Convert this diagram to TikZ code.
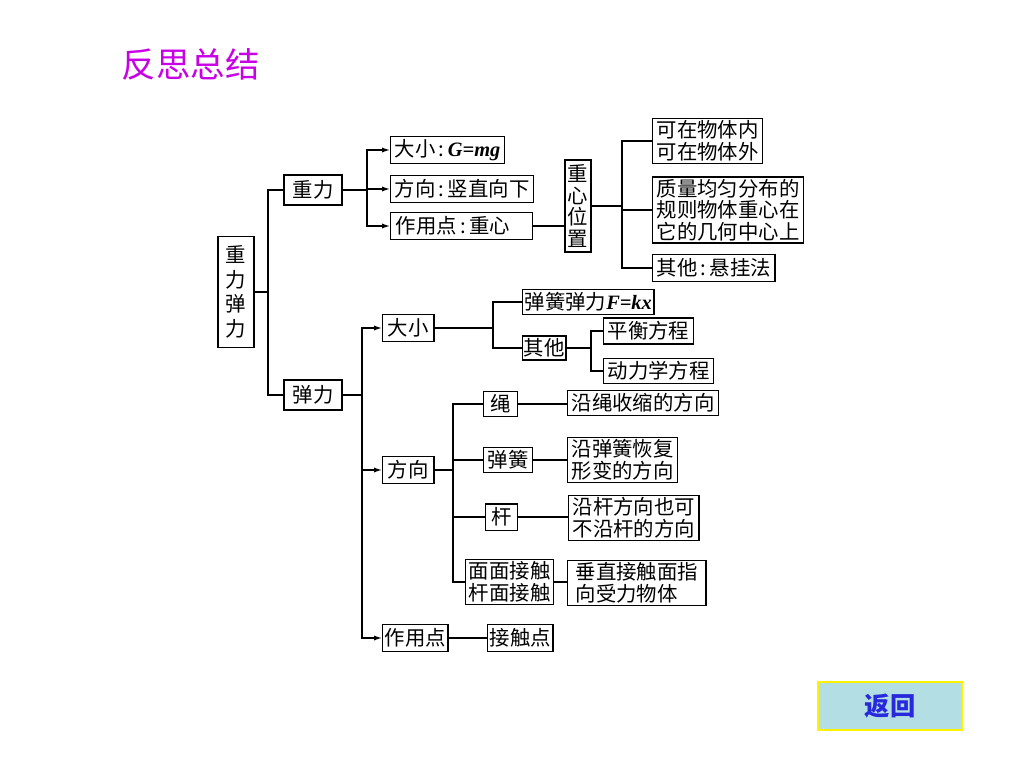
\documentclass[tikz,border=0pt]{standalone}
\usepackage{fontspec}
\setmainfont{Noto Sans CJK SC}
\newfontfamily\latinit{Liberation Serif}
\usetikzlibrary{arrows.meta}
\definecolor{titlepurple}{RGB}{200,0,230}
\definecolor{backfill}{RGB}{178,222,228}
\definecolor{backblue}{RGB}{40,40,220}
\tikzset{
  box/.style={draw, line width=1pt, inner xsep=0.1cm, inner ysep=0.05cm,
    minimum height=0.68cm, font=\fontsize{14.5}{15.4}\selectfont},
  tallbox/.style={box, align=center, inner xsep=0.05cm},
  multibox/.style={box, align=left},
  link/.style={line width=1pt},
  arr/.style={link, -{Latex[length=0.2cm,width=0.13cm]}},
}
\newcommand{\fml}[1]{{\latinit\bfseries\itshape #1}}

\begin{document}
\begin{tikzpicture}[x=0.025cm,y=-0.025cm]
  \useasboundingbox (0,0) rectangle (1024,768);

  % title
  \node[text=titlepurple, font=\fontsize{24.5}{28}\selectfont, anchor=west] (title) at (117,64) {反思总结};

  % root
  \node[tallbox, minimum width=0.9cm, minimum height=2.78cm, font=\fontsize{14.5}{17.5}\selectfont] (root) at (236,292) {重\\力\\弹\\力};
  \node[box, minimum width=1.45cm, minimum height=0.75cm] (zl) at (313,190) {重力};
  \node[box, minimum width=1.45cm, minimum height=0.75cm] (tl) at (313,395) {弹力};
  \coordinate (sp0) at (268,0);
  \draw[link] (root.east) -- (root.east -| sp0) |- (zl.west);
  \draw[link] (root.east) -- (root.east -| sp0) |- (tl.west);

  % gravity branch
  \node[box, anchor=west] (dx1) at (390,150) {大小\,:\,\fml{G=mg}};
  \node[box, anchor=west] (fx1) at (390,189) {方向\,:\,竖直向下};
  \node[box, anchor=west, minimum width=3.55cm, text width=3.3cm] (zy1) at (390,226) {作用点\,:\,重心};
  \coordinate (sp1) at (367,0);
  \draw[arr] (zl.east) -- (zl.east -| sp1) |- (dx1.west);
  \draw[arr] (zl.east) -- (zl.east -| sp1) |- (fx1.west);
  \draw[arr] (zl.east) -- (zl.east -| sp1) |- (zy1.west);

  % centre of gravity
  \node[tallbox, minimum width=0.65cm, minimum height=2.3cm, inner xsep=0.02cm] (zxwz) at (578,206) {重\\心\\位\\置};
  \draw[link] (zy1.east) -- (zy1.east -| zxwz.west);
  \node[multibox, anchor=west] (kz) at (652,141) {可在物体内\\可在物体外};
  \node[multibox, anchor=west] (zlj) at (652,210) {质量均匀分布的\\规则物体重心在\\它的几何中心上};
  \node[box, anchor=west] (qt1) at (652,268) {其他\,:\,悬挂法};
  \coordinate (sp2) at (622,0);
  \draw[link] (zxwz.east) -- (zxwz.east -| sp2) |- (kz.west);
  \draw[link] (zxwz.east) -- (zxwz.east -| sp2) |- (zlj.west);
  \draw[link] (zxwz.east) -- (zxwz.east -| sp2) |- (qt1.west);

  % elastic branch
  \node[box, anchor=west, minimum width=1.28cm] (dx2) at (382,328) {大小};
  \node[box, anchor=west, minimum width=1.28cm] (fx2) at (382,470) {方向};
  \node[box, anchor=west, inner xsep=0.05cm] (zy2) at (382,638) {作用点};
  \coordinate (sp3) at (362,0);
  \draw[arr] (tl.east) -- (tl.east -| sp3) |- (dx2.west);
  \draw[arr] (tl.east) -- (tl.east -| sp3) |- (fx2.west);
  \draw[arr] (tl.east) -- (tl.east -| sp3) |- (zy2.west);

  % magnitude
  \node[box, anchor=west, inner xsep=0.05cm, minimum height=0.62cm] (thl) at (522,302) {弹簧弹力\fml{F=kx}};
  \node[box, anchor=west, inner xsep=0.03cm, minimum height=0.6cm] (qt2) at (522,348) {其他};
  \coordinate (sp4) at (493,0);
  \draw[link] (dx2.east) -- (dx2.east -| sp4) |- (thl.west);
  \draw[link] (dx2.east) -- (dx2.east -| sp4) |- (qt2.west);
  \node[box, anchor=west, minimum height=0.64cm] (ph) at (603,331) {平衡方程};
  \node[box, anchor=west, minimum height=0.62cm] (dlx) at (603,371) {动力学方程};
  \coordinate (sp5) at (591,0);
  \draw[link] (qt2.east) -- (qt2.east -| sp5) |- (ph.west);
  \draw[link] (qt2.east) -- (qt2.east -| sp5) |- (dlx.west);

  % direction
  \node[box, anchor=west, minimum width=0.85cm, minimum height=0.62cm] (sheng) at (483,404) {绳};
  \node[box, anchor=west, minimum width=1.22cm, minimum height=0.62cm] (thg) at (483,460) {弹簧};
  \node[box, anchor=west, minimum width=0.8cm, minimum height=0.66cm] (gan) at (485,517) {杆};
  \node[multibox, anchor=west, inner xsep=0.08cm] (mm) at (465,582) {面面接触\\杆面接触};
  \coordinate (sp6) at (453,0);
  \draw[link] (fx2.east) -- (fx2.east -| sp6) |- (sheng.west);
  \draw[link] (fx2.east) -- (fx2.east -| sp6) |- (thg.west);
  \draw[link] (fx2.east) -- (fx2.east -| sp6) |- (gan.west);
  \draw[link] (fx2.east) -- (fx2.east -| sp6) |- (mm.west);
  \node[box, anchor=west, minimum height=0.62cm] (shd) at (567,403) {沿绳收缩的方向};
  \node[multibox, anchor=west] (thd) at (567,460) {沿弹簧恢复\\形变的方向};
  \node[multibox, anchor=west] (gand) at (568,518) {沿杆方向也可\\不沿杆的方向};
  \node[multibox, anchor=west, inner xsep=0.2cm] (mmd) at (567,583) {垂直接触面指\\向受力物体\hspace{1em}};
  \draw[link] (sheng.east) -- (sheng.east -| shd.west);
  \draw[link] (thg.east) -- (thg.east -| thd.west);
  \draw[link] (gan.east) -- (gan.east -| gand.west);
  \draw[link] (mm.east) -- (mm.east -| mmd.west);

  % point of action
  \node[box, anchor=west, inner xsep=0.05cm] (jcd) at (487,638) {接触点};
  \draw[link] (zy2.east) -- (jcd.west);

  % back button
  \node[draw=yellow, line width=2pt, fill=backfill, minimum width=3.6cm, minimum height=1.2cm,
    text=backblue, font=\fontsize{18}{20}\selectfont\bfseries] (back) at (890,706) {返回};
\end{tikzpicture}
\end{document}
